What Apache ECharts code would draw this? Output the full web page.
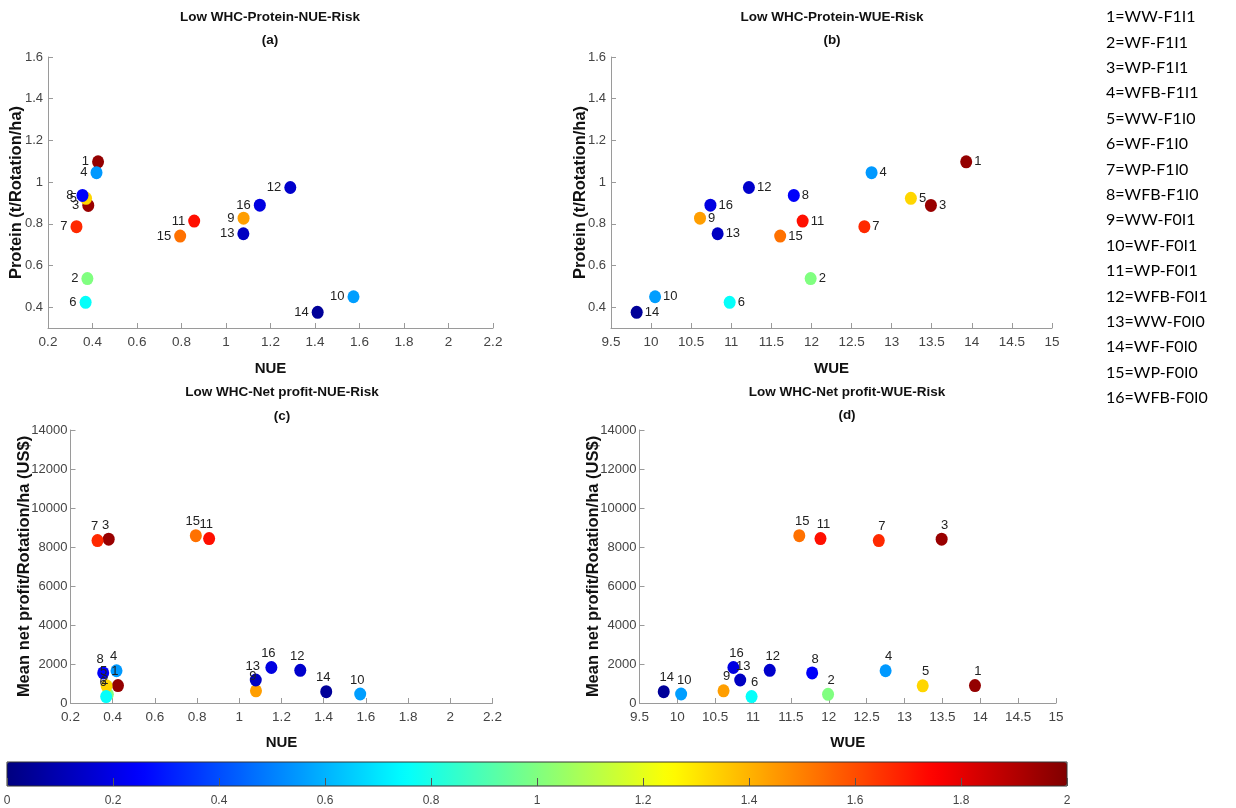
<!DOCTYPE html>
<html>
<head>
<meta charset="utf-8">
<title>Low WHC risk</title>
<script src="https://cdn.jsdelivr.net/npm/echarts@6/dist/echarts.min.js"></script>
<style>
html, body { margin: 0; padding: 0; background: #fff; }
#chart { width: 1236px; height: 808px; }
</style>
</head>
<body>
<div id="chart"></div>
<script>
// rotation systems, numbered as in the plots
var systems = ['1=WW-F1I1', '2=WF-F1I1', '3=WP-F1I1', '4=WFB-F1I1', '5=WW-F1I0', '6=WF-F1I0', '7=WP-F1I0', '8=WFB-F1I0',
  '9=WW-F0I1', '10=WF-F0I1', '11=WP-F0I1', '12=WFB-F0I1', '13=WW-F0I0', '14=WF-F0I0', '15=WP-F0I0', '16=WFB-F0I0'];
var ids = [1, 2, 3, 4, 5, 6, 7, 8, 9, 10, 11, 12, 13, 14, 15, 16];

// values
var nue = [0.425, 0.377, 0.381, 0.418, 0.371, 0.369, 0.328, 0.355, 1.079, 1.573, 0.857, 1.289, 1.078, 1.412, 0.794, 1.152];
var wue = [13.93, 11.99, 13.49, 12.75, 13.24, 10.98, 12.66, 11.78, 10.61, 10.05, 11.89, 11.22, 10.83, 9.82, 11.61, 10.74];
var protein = [1.097, 0.537, 0.888, 1.045, 0.922, 0.423, 0.786, 0.936, 0.827, 0.450, 0.813, 0.974, 0.752, 0.375, 0.741, 0.889];
var profit = [895, 445, 8403, 1655, 880, 330, 8330, 1540, 625, 462, 8430, 1677, 1180, 582, 8580, 1820];
var risk = [1.96, 1.0, 1.95, 0.55, 1.33, 0.76, 1.67, 0.24, 1.44, 0.56, 1.72, 0.15, 0.13, 0.05, 1.53, 0.19];

var proteinTicks = [0.4, 0.6, 0.8, 1, 1.2, 1.4, 1.6];

var jet = ['#000080', '#0000ff', '#0080ff', '#00ffff', '#80ff80', '#ffff00', '#ff8000', '#ff0000', '#800000'];

var narrow = "'Liberation Sans Narrow', 'Liberation Sans', sans-serif";
var sans = "'Liberation Sans', Arial, sans-serif";

function points(xs, ys) {
  return ids.map(function (id, i) { return [xs[i], ys[i], risk[i], id]; });
}

function plain(v) { return String(v); }

function xAxisOf(grid, name, min, max, interval, gap) {
  return {
    gridIndex: grid, type: 'value', min: min, max: max, interval: interval,
    name: name, nameLocation: 'middle', nameGap: gap, nameMoveOverlap: false,
    nameTextStyle: { fontFamily: sans, fontWeight: 'bold', fontSize: 15, color: '#111' },
    axisLine: { show: true, lineStyle: { color: '#9a9a9a', width: 1 } },
    axisTick: { show: true, inside: true, length: 5, lineStyle: { color: '#9a9a9a' } },
    axisLabel: { margin: 7, fontFamily: narrow, fontSize: 13.5, color: '#444', formatter: plain },
    splitLine: { show: false }
  };
}

function yAxisOf(grid, name, min, max, gap, extra) {
  var ax = {
    gridIndex: grid, type: 'value', min: min, max: max,
    name: name, nameLocation: 'middle', nameGap: gap, nameMoveOverlap: false,
    nameTextStyle: { fontFamily: sans, fontWeight: 'bold', fontSize: 16.5, color: '#111' },
    axisLine: { show: true, lineStyle: { color: '#9a9a9a', width: 1 } },
    axisTick: { show: true, inside: true, length: 5, lineStyle: { color: '#9a9a9a' } },
    axisLabel: { margin: 5, fontFamily: narrow, fontSize: 13, color: '#444', formatter: plain },
    splitLine: { show: false }
  };
  for (var k in extra) {
    if (k === 'axisLabel' || k === 'axisTick') Object.assign(ax[k], extra[k]);
    else ax[k] = extra[k];
  }
  return ax;
}

function scatterOf(idx, data, label) {
  return {
    type: 'scatter', xAxisIndex: idx, yAxisIndex: idx, data: data,
    symbolSize: [12, 13],
    itemStyle: { opacity: 1 },
    emphasis: { disabled: true },
    label: Object.assign({
      show: true, fontFamily: narrow, fontSize: 13, color: '#222',
      formatter: function (p) { return p.data[3]; }
    }, label)
  };
}

function titleText(x, y, text, font) {
  return {
    type: 'text', x: x, y: y, z: 100,
    style: { text: text, font: font, fill: '#111', align: 'center', textAlign: 'center',
      verticalAlign: 'middle', textVerticalAlign: 'middle' }
  };
}

var graphics = [
  titleText(270, 17, 'Low WHC-Protein-NUE-Risk', 'bold 13.5px ' + sans),
  titleText(270, 40, '(a)', 'bold 13.5px ' + sans),
  titleText(832, 17, 'Low WHC-Protein-WUE-Risk', 'bold 13.5px ' + sans),
  titleText(832, 40, '(b)', 'bold 13.5px ' + sans),
  titleText(282, 392, 'Low WHC-Net profit-NUE-Risk', 'bold 13.5px ' + sans),
  titleText(282, 416, '(c)', 'bold 13.5px ' + sans),
  titleText(847, 392, 'Low WHC-Net profit-WUE-Risk', 'bold 13.5px ' + sans),
  titleText(847, 415, '(d)', 'bold 13.5px ' + sans)
];
systems.forEach(function (s, i) {
  graphics.push({
    type: 'text', x: 1106, y: 17 + i * 25.4, z: 100,
    style: { text: s, font: '16px Lato, "Open Sans", sans-serif', fill: '#000',
      verticalAlign: 'middle', textVerticalAlign: 'middle' }
  });
});

var chart = echarts.init(document.getElementById('chart'));
chart.setOption({
  animation: false,
  backgroundColor: '#fff',
  grid: [
    { left: 48, top: 57, width: 445, height: 271 },
    { left: 611, top: 57, width: 441, height: 271 },
    { left: 70.5, top: 430, width: 422, height: 273 },
    { left: 639.5, top: 430, width: 416.5, height: 273 },
    { left: 7, top: 762, width: 1060, height: 24, show: true, z: 10,
      borderColor: '#333', borderWidth: 1, backgroundColor: 'transparent' }
  ],
  xAxis: [
    xAxisOf(0, 'NUE', 0.2, 2.2, 0.2, 33),
    xAxisOf(1, 'WUE', 9.5, 15, 0.5, 33),
    xAxisOf(2, 'NUE', 0.2, 2.2, 0.2, 32),
    xAxisOf(3, 'WUE', 9.5, 15, 0.5, 32),
    {
      gridIndex: 4, type: 'value', min: 0, max: 2, interval: 0.2, z: 10,
      axisLine: { show: false },
      axisTick: { show: true, inside: true, length: 8, lineStyle: { color: '#555' } },
      axisLabel: { margin: 9, fontFamily: narrow, fontSize: 12, color: '#444', formatter: plain },
      splitLine: { show: false }
    }
  ],
  yAxis: [
    yAxisOf(0, 'Protein (t/Rotation/ha)', 0.3, 1.6, 23,
      { axisLabel: { customValues: proteinTicks }, axisTick: { customValues: proteinTicks } }),
    yAxisOf(1, 'Protein (t/Rotation/ha)', 0.3, 1.6, 22,
      { axisLabel: { customValues: proteinTicks }, axisTick: { customValues: proteinTicks } }),
    yAxisOf(2, 'Mean net profit/Rotation/ha (US$)', 0, 14000, 38, { interval: 2000, axisLabel: { margin: 3 } }),
    yAxisOf(3, 'Mean net profit/Rotation/ha (US$)', 0, 14000, 38, { interval: 2000, axisLabel: { margin: 3 } }),
    { gridIndex: 4, type: 'value', min: 0, max: 1, show: false }
  ],
  visualMap: {
    type: 'continuous', min: 0, max: 2, dimension: 2, seriesIndex: [0, 1, 2, 3],
    orient: 'horizontal', left: 7, top: 762, itemWidth: 24, itemHeight: 1060,
    padding: 0, calculable: false, hoverLink: false,
    inRange: { color: jet }
  },
  series: [
    scatterOf(0, points(nue, protein), { position: 'left', distance: 3 }),
    scatterOf(1, points(wue, protein), { position: 'right', distance: 2 }),
    scatterOf(2, points(nue, profit), { position: 'top', distance: 1, offset: [-3, 0] }),
    scatterOf(3, points(wue, profit), { position: 'top', distance: 1, offset: [3, 0] })
  ],
  graphic: graphics
});
</script>
</body>
</html>
